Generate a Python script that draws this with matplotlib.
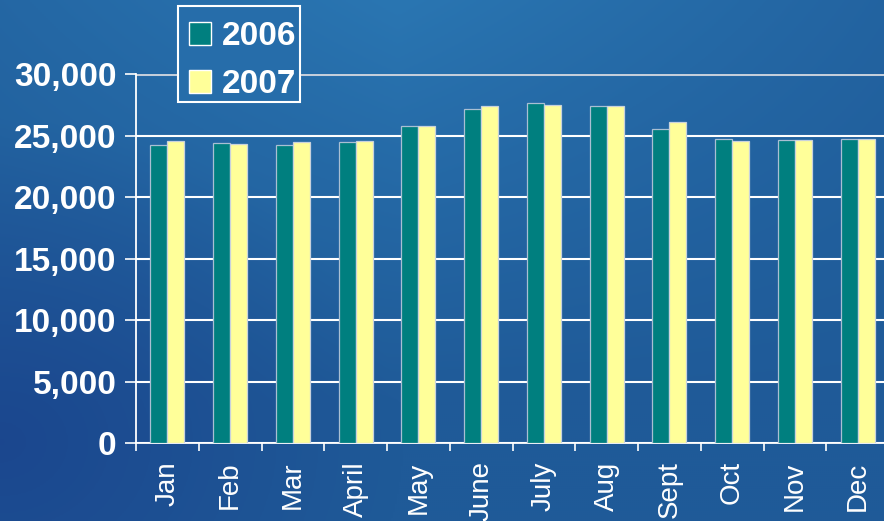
import numpy as np
import matplotlib
matplotlib.use('Agg')
import matplotlib.pyplot as plt
from matplotlib.patches import Patch, Rectangle

months = ['Jan', 'Feb', 'Mar', 'April', 'May', 'June', 'July', 'Aug', 'Sept', 'Oct', 'Nov', 'Dec']
sales_2006 = [24210, 24420, 24210, 24450, 25800, 27160, 27620, 27380, 25510, 24740, 24640, 24740]
sales_2007 = [24560, 24310, 24450, 24560, 25800, 27380, 27510, 27400, 26130, 24560, 24640, 24740]
yticks = [0, 5000, 10000, 15000, 20000, 25000, 30000]

plt.rcParams['font.family'] = ['Liberation Sans', 'DejaVu Sans']

W, H = 884, 521
fig = plt.figure(figsize=(W/100, H/100), dpi=100)

# blue backdrop
bg = fig.add_axes([0, 0, 1, 1], zorder=-1)
h, w = 260, 442
yy, xx = np.mgrid[0:1:h*1j, 0:1:w*1j]
top = np.array([0x2a, 0x76, 0xb2]) / 255.
base = np.array([0x1f, 0x5a, 0x98]) / 255.
dark = np.array([0x1a, 0x42, 0x8c]) / 255.
t = np.clip(1 - yy * 1.3, 0, 1)[..., None] * np.clip(1 - abs(xx - 0.45) * 1.2, 0, 1)[..., None]
img = base * (1 - t) + top * t
d = np.clip(1 - np.hypot((xx - 0.0) * 2.2, (yy - 0.85) * 1.6), 0, 1)[..., None] * 0.8
img = img * (1 - d) + dark * d
bg.imshow(img, aspect='auto', extent=[0, 1, 0, 1], origin='upper')
bg.axis('off')
leg_bg = img[int(54/H*h), int(239/W*w)]

ax = fig.add_axes([136/W, 77.7/H, (889-136)/W, (443.3-74)/H])
ax.set_facecolor('none')

x = np.arange(len(months))
bw = 0.27
ax.bar(x - bw/2, sales_2006, bw, color='#007f7f', edgecolor='#a9bfd3', linewidth=0.9, zorder=3)
ax.bar(x + bw/2, sales_2007, bw, color='#ffff99', edgecolor='#c8d2dc', linewidth=0.9, zorder=3)

ax.set_xlim(-0.5, 11.5)
ax.set_ylim(0, 30000)
ax.set_yticks(yticks)
ax.set_yticklabels([f'{v:,}' for v in yticks], fontsize=24, fontweight='bold', color='white')
ax.set_xticks(x)
ax.set_xticklabels(months, rotation=90, fontsize=20, color='white')
ax.set_xticks(np.arange(-0.5, 12, 1), minor=True)
ax.tick_params(axis='x', which='major', length=0, pad=13)
ax.tick_params(axis='x', which='minor', length=6, color='white', width=1.2, direction='out')
ax.tick_params(axis='y', length=8, color='white', width=1.2, pad=6)

ax.grid(axis='y', color='white', linewidth=1.5, zorder=0)
ax.set_axisbelow(True)
for s in ['top', 'right']:
    ax.spines[s].set_visible(False)
ax.spines['left'].set_color('white')
ax.spines['left'].set_linewidth(1.3)
ax.spines['bottom'].set_color('white')
ax.spines['bottom'].set_linewidth(1.3)
ax.axhline(30000, color='#c4cedb', linewidth=2.2, zorder=1)

# legend box (filled so the top gridline stops at its edge)
fig.patches.append(Rectangle((178/W, 1 - 102/H), 122/W, 96/H, transform=fig.transFigure,
                             facecolor=leg_bg, edgecolor='white', linewidth=1.5, zorder=5))
handles = [Patch(facecolor='#007f7f', edgecolor='white', linewidth=1, label='2006'),
           Patch(facecolor='#ffff99', edgecolor='white', linewidth=1, label='2007')]
leg = fig.legend(handles=handles, loc='upper left', bbox_to_anchor=(189/W, 1 - 21/H),
                 prop={'size': 24, 'weight': 'bold'}, frameon=False,
                 handlelength=0.66, handleheight=0.66, handletextpad=0.33,
                 labelspacing=0.52, borderpad=0, borderaxespad=0)
leg.set_zorder(6)
for txt in leg.get_texts():
    txt.set_color('white')

fig.savefig('out.png', dpi=100)
